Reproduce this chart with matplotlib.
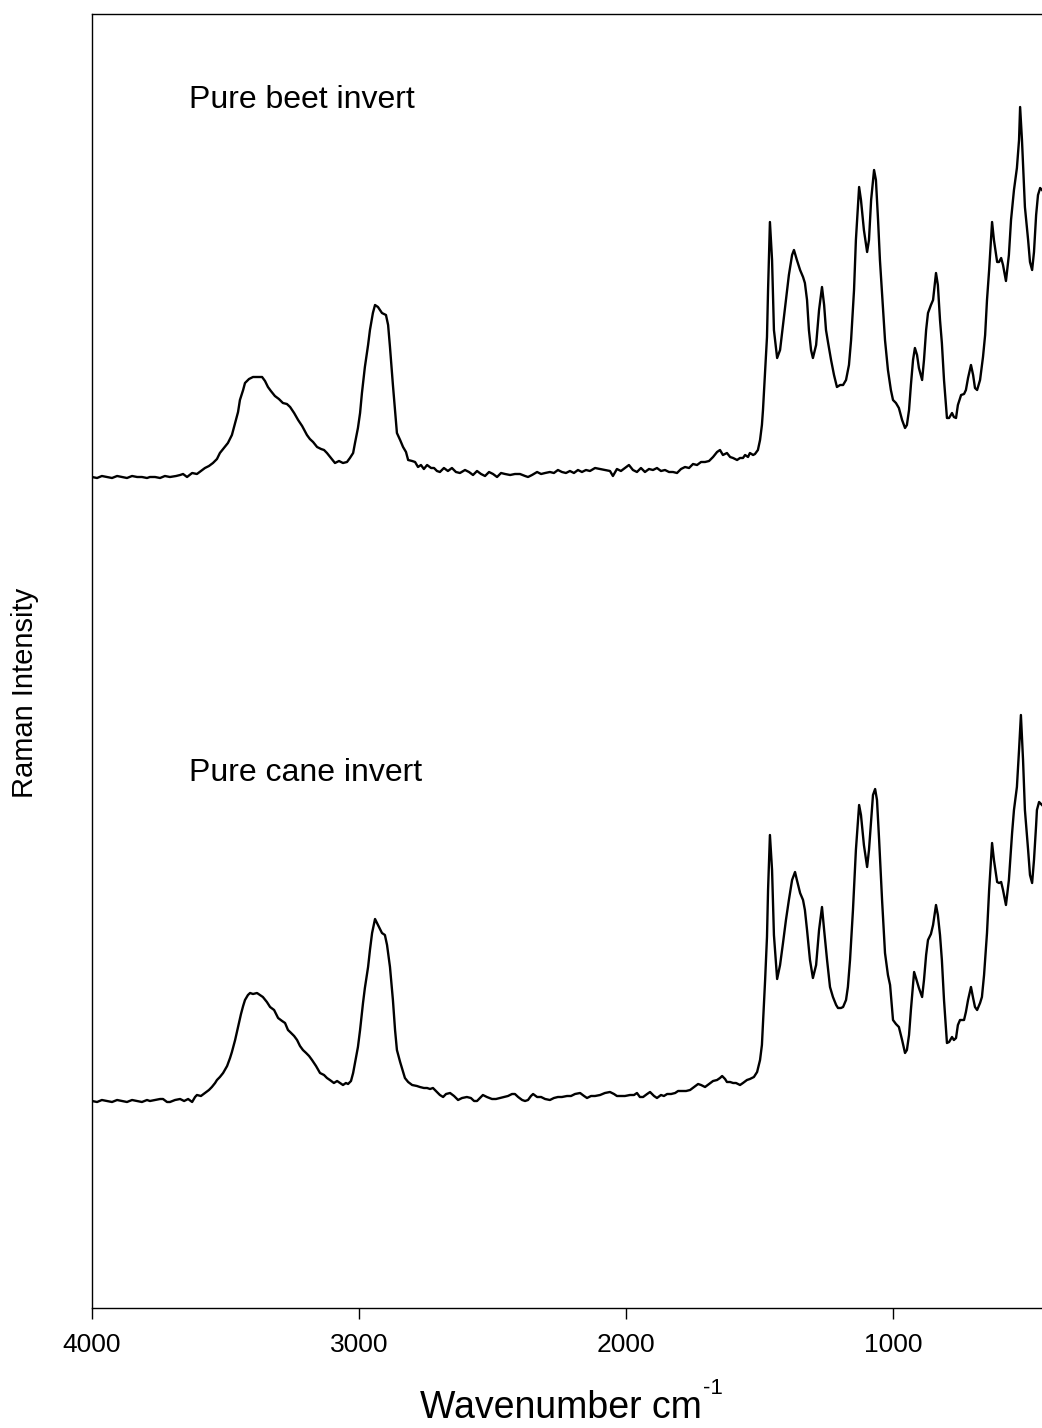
import matplotlib.pyplot as plt

plt.rcParams['font.family'] = ['Liberation Sans', 'DejaVu Sans']

# Волновые числа (см^-1) и интенсивность (усл. ед.)
beet_wn = [4000, 3981, 3963, 3944, 3925, 3906, 3888, 3869, 3850, 3831, 3813, 3794, 3783, 3764, 3745,
           3727, 3708, 3685, 3670, 3659, 3644, 3625, 3607, 3592, 3577, 3562, 3547, 3532, 3521, 3506,
           3491, 3476, 3464, 3453, 3446, 3434, 3427, 3412, 3397, 3378, 3363, 3352, 3341, 3330, 3315,
           3300, 3285, 3270, 3258, 3243, 3228, 3213, 3195, 3184, 3172, 3157, 3142, 3131, 3120, 3105,
           3090, 3075, 3060, 3045, 3034, 3022, 3015, 3004, 2996, 2989, 2978, 2966, 2959, 2948, 2940,
           2929, 2914, 2899, 2891, 2884, 2873, 2858, 2846, 2835, 2824, 2816, 2801, 2790, 2779, 2768,
           2757, 2745, 2730, 2719, 2708, 2697, 2682, 2667, 2652, 2637, 2622, 2603, 2588, 2573, 2558,
           2543, 2528, 2513, 2498, 2483, 2468, 2453, 2434, 2416, 2397, 2378, 2367, 2352, 2333, 2318,
           2303, 2285, 2270, 2255, 2240, 2225, 2210, 2195, 2180, 2165, 2150, 2135, 2116, 2097, 2079,
           2060, 2049, 2034, 2019, 2004, 1989, 1974, 1959, 1944, 1929, 1914, 1899, 1884, 1869, 1854,
           1839, 1824, 1809, 1794, 1779, 1764, 1749, 1734, 1719, 1704, 1689, 1674, 1659, 1648, 1637,
           1622, 1610, 1599, 1584, 1573, 1562, 1554, 1543, 1536, 1524, 1517, 1506, 1498, 1491, 1487,
           1479, 1472, 1468, 1461, 1453, 1446, 1434, 1423, 1412, 1401, 1390, 1378, 1371, 1360, 1348,
           1337, 1330, 1322, 1315, 1307, 1300, 1288, 1277, 1266, 1258, 1251, 1243, 1232, 1221, 1210,
           1198, 1187, 1176, 1165, 1157, 1146, 1139, 1127, 1120, 1109, 1097, 1090, 1082, 1071, 1064,
           1056, 1049, 1037, 1030, 1019, 1008, 1000, 989, 978, 966, 955, 948, 940, 933, 925,
           918, 910, 903, 891, 884, 876, 869, 858, 850, 839, 832, 824, 817, 809, 798,
           790, 779, 772, 764, 757, 745, 734, 727, 719, 708, 700, 693, 685, 674, 663,
           655, 648, 640, 629, 622, 610, 603, 595, 588, 577, 566, 558, 547, 536, 528,
           524, 517, 506, 494, 487, 479, 472, 464, 457, 449, 442]
beet_int = [831, 830, 832, 831, 830, 832, 831, 830, 832, 831, 831, 830, 831, 831, 830,
            832, 831, 832, 833, 834, 831, 835, 834, 837, 840, 842, 845, 849, 855, 860,
            865, 873, 885, 896, 908, 918, 925, 929, 931, 931, 931, 927, 921, 917, 912,
            909, 905, 904, 901, 895, 888, 882, 873, 869, 866, 861, 859, 858, 855, 850,
            845, 847, 845, 846, 850, 855, 865, 880, 895, 915, 941, 963, 978, 995, 1003,
            1001, 995, 993, 983, 961, 923, 875, 868, 861, 856, 848, 847, 846, 841, 843,
            839, 843, 840, 840, 837, 836, 840, 837, 840, 836, 835, 838, 836, 833, 837,
            834, 832, 836, 834, 831, 835, 834, 833, 834, 834, 832, 831, 833, 836, 834,
            835, 836, 835, 838, 836, 835, 837, 835, 838, 836, 838, 837, 840, 839, 838,
            837, 832, 839, 837, 840, 843, 838, 836, 840, 836, 839, 838, 840, 837, 838,
            836, 836, 835, 839, 841, 840, 844, 843, 846, 846, 847, 851, 856, 858, 853,
            855, 851, 850, 848, 850, 850, 853, 851, 855, 853, 854, 858, 868, 883, 898,
            938, 971, 1018, 1086, 1048, 978, 950, 958, 983, 1008, 1033, 1053, 1058, 1048, 1038,
            1031, 1025, 1008, 978, 958, 950, 963, 998, 1021, 1003, 978, 965, 948, 933, 921,
            923, 923, 928, 943, 968, 1018, 1068, 1121, 1108, 1078, 1056, 1068, 1108, 1138, 1128,
            1088, 1048, 998, 968, 938, 918, 908, 905, 900, 888, 880, 883, 898, 923, 948,
            960, 953, 940, 928, 948, 978, 995, 1003, 1008, 1035, 1023, 988, 965, 928, 890,
            890, 895, 891, 890, 903, 913, 914, 918, 930, 943, 933, 920, 918, 928, 951,
            973, 1008, 1038, 1086, 1068, 1046, 1046, 1050, 1043, 1027, 1053, 1088, 1118, 1140, 1168,
            1201, 1168, 1101, 1068, 1046, 1038, 1056, 1093, 1113, 1120, 1118]

cane_wn = [4000, 3981, 3963, 3944, 3925, 3906, 3888, 3869, 3850, 3831, 3813, 3794, 3783, 3764, 3745,
           3734, 3719, 3708, 3689, 3670, 3655, 3640, 3625, 3614, 3607, 3592, 3577, 3562, 3551, 3539,
           3532, 3521, 3509, 3494, 3483, 3476, 3464, 3453, 3442, 3434, 3427, 3416, 3408, 3397, 3382,
           3371, 3360, 3345, 3333, 3318, 3303, 3288, 3277, 3266, 3258, 3243, 3232, 3221, 3210, 3198,
           3187, 3176, 3161, 3146, 3131, 3120, 3109, 3094, 3082, 3071, 3060, 3049, 3041, 3030, 3022,
           3015, 3004, 2996, 2985, 2978, 2966, 2959, 2951, 2940, 2929, 2914, 2903, 2895, 2884, 2873,
           2865, 2858, 2846, 2835, 2828, 2816, 2801, 2783, 2772, 2757, 2745, 2734, 2723, 2712, 2697,
           2685, 2674, 2659, 2644, 2629, 2614, 2596, 2581, 2569, 2558, 2543, 2536, 2521, 2502, 2487,
           2472, 2457, 2442, 2427, 2416, 2404, 2389, 2378, 2367, 2356, 2348, 2333, 2318, 2303, 2285,
           2270, 2255, 2240, 2221, 2206, 2191, 2172, 2157, 2146, 2131, 2116, 2097, 2079, 2060, 2045,
           2034, 2022, 2004, 1985, 1970, 1959, 1948, 1936, 1921, 1910, 1895, 1884, 1869, 1858, 1846,
           1831, 1816, 1805, 1790, 1775, 1760, 1745, 1730, 1719, 1704, 1689, 1674, 1659, 1648, 1640,
           1629, 1622, 1610, 1599, 1588, 1573, 1562, 1547, 1536, 1521, 1509, 1498, 1491, 1487, 1479,
           1472, 1468, 1461, 1453, 1446, 1434, 1423, 1412, 1401, 1390, 1378, 1367, 1360, 1348, 1337,
           1330, 1322, 1311, 1300, 1288, 1277, 1266, 1258, 1247, 1236, 1225, 1213, 1206, 1195, 1187,
           1176, 1169, 1161, 1150, 1139, 1127, 1120, 1109, 1097, 1090, 1082, 1075, 1067, 1060, 1052,
           1041, 1030, 1019, 1011, 1000, 989, 978, 966, 955, 948, 940, 933, 921, 914, 903,
           891, 884, 876, 869, 858, 850, 839, 832, 824, 817, 809, 798, 790, 779, 772,
           764, 757, 749, 734, 727, 719, 708, 700, 693, 685, 674, 667, 659, 648, 640,
           629, 622, 610, 603, 595, 588, 577, 566, 554, 547, 536, 528, 521, 513, 506,
           494, 487, 479, 472, 464, 461, 453, 442]
cane_int = [207, 206, 208, 207, 206, 208, 207, 206, 208, 207, 206, 208, 207, 208, 209,
            209, 206, 206, 208, 209, 207, 209, 206, 211, 213, 212, 215, 218, 221, 225,
            228, 231, 235, 242, 250, 256, 268, 281, 294, 302, 308, 313, 315, 314, 315,
            313, 311, 306, 301, 298, 290, 287, 285, 278, 276, 272, 268, 262, 258, 255,
            252, 248, 242, 235, 233, 230, 228, 225, 227, 225, 223, 225, 224, 227, 235,
            245, 261, 278, 305, 320, 341, 358, 375, 389, 383, 375, 373, 363, 341, 308,
            278, 258, 246, 236, 230, 226, 223, 222, 221, 220, 220, 219, 220, 217, 213,
            211, 214, 215, 212, 208, 210, 211, 210, 207, 207, 211, 213, 211, 209, 209,
            210, 211, 212, 214, 214, 211, 208, 207, 208, 212, 214, 211, 211, 209, 208,
            210, 211, 211, 212, 212, 214, 215, 212, 210, 212, 212, 213, 215, 216, 214,
            212, 212, 212, 213, 213, 215, 211, 211, 214, 216, 212, 210, 213, 212, 214,
            214, 215, 217, 217, 217, 218, 221, 224, 223, 221, 224, 227, 228, 230, 232,
            229, 226, 226, 225, 225, 223, 225, 228, 229, 231, 236, 248, 263, 285, 328,
            371, 418, 473, 438, 373, 329, 343, 365, 388, 408, 428, 436, 428, 415, 408,
            398, 378, 348, 330, 343, 378, 401, 378, 348, 321, 311, 303, 300, 300, 301,
            308, 321, 348, 398, 458, 503, 493, 463, 441, 458, 488, 513, 519, 508, 468,
            408, 355, 333, 323, 288, 284, 281, 268, 255, 258, 273, 298, 336, 330, 320,
            311, 328, 353, 368, 374, 383, 403, 393, 373, 348, 308, 265, 266, 271, 268,
            270, 283, 288, 288, 296, 308, 321, 310, 301, 298, 305, 311, 333, 375, 418,
            465, 448, 426, 425, 426, 418, 403, 428, 475, 498, 521, 558, 593, 548, 498,
            458, 433, 425, 448, 483, 498, 506, 503]

labels = ["Pure beet invert", "Pure cane invert"]
label_pos = [(3637, 1208), (3637, 535)]
x_ticks = [4000, 3000, 2000, 1000]

fig = plt.figure(figsize=(10.42, 14.28), dpi=100)
ax = fig.add_axes([92 / 1042, 120 / 1428, 950 / 1042, 1294 / 1428])

ax.plot(beet_wn, beet_int, color="black", linewidth=1.7, solid_joinstyle="round")
ax.plot(cane_wn, cane_int, color="black", linewidth=1.7, solid_joinstyle="round")

for text, (xp, yp) in zip(labels, label_pos):
    ax.text(xp, yp, text, fontsize=23, ha="left", va="center")

ax.set_xlim(4000, 442)
ax.set_ylim(0, 1294)
ax.set_xticks(x_ticks)
ax.set_xticklabels([str(t) for t in x_ticks])
ax.set_yticks([])
ax.tick_params(axis="x", direction="out", length=8, width=1, pad=10, labelsize=19)
ax.spines["right"].set_visible(False)
for s in ["top", "left", "bottom"]:
    ax.spines[s].set_linewidth(1)

fig.text(25 / 1042, 1 - 693 / 1428, "Raman Intensity", rotation=90,
         ha="center", va="center", fontsize=21)
# подпись оси X с надстрочным "-1"
fig.text(420 / 1042, 1 - 1408 / 1428, "Wavenumber cm",
         ha="left", va="center", fontsize=27)
fig.text(703 / 1042, 1 - 1388 / 1428, "-1",
         ha="left", va="center", fontsize=16)

fig.savefig("out.png", dpi=100)
